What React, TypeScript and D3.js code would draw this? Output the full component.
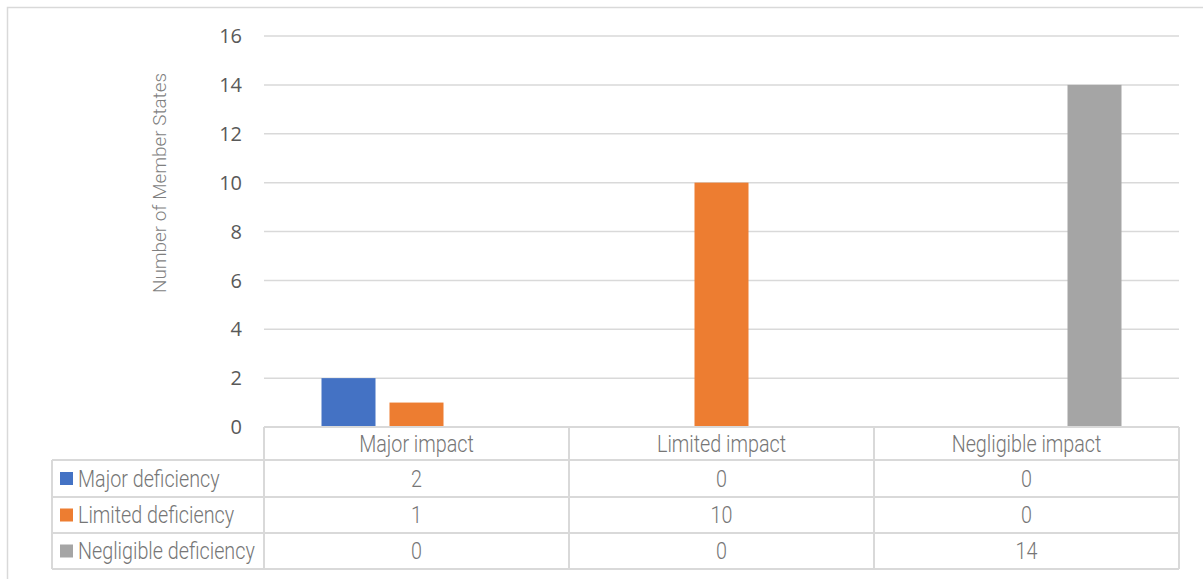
import React from "react";
import * as d3 from "d3";

const categories = ["Major impact", "Limited impact", "Negligible impact"];
const seriesNames = ["Major deficiency", "Limited deficiency", "Negligible deficiency"];
const majorDeficiency = [2, 0, 0];
const limitedDeficiency = [1, 10, 0];
const negligibleDeficiency = [0, 0, 14];
const seriesColors = ["#4472C4", "#ED7D31", "#A5A5A5"];
const yTicks = [0, 2, 4, 6, 8, 10, 12, 14, 16];
const yTitle = "Number of Member States";

const seriesValues = [majorDeficiency, limitedDeficiency, negligibleDeficiency];

const W = 1203;
const H = 579;
const plotLeft = 264;
const plotRight = 1179;
const plotTop = 36;
const plotBottom = 427;
const rowLines = [427, 460, 497, 533, 569];
const tableLeft = 52;
const narrow = "Roboto, sans-serif";
const gridColor = "#D9D9D9";
const textColor = "#767676";

function NText({ x, y, anchor, children }: { x: number; y: number; anchor?: string; children: React.ReactNode }) {
  return (
    <text
      transform={`translate(${x},${y}) scale(0.84,1)`}
      dy="0.36em"
      textAnchor={anchor || "start"}
      fontFamily={narrow}
      fontWeight={300}
      fontSize={23.5}
      fill={textColor}
    >
      {children}
    </text>
  );
}

export default function App() {
  const x = d3.scaleBand<string>().domain(categories).range([plotLeft, plotRight]);
  const bw = x.bandwidth();
  const xs = d3
    .scaleBand<string>()
    .domain(seriesNames)
    .range([(bw - 190) / 2, (bw + 190) / 2])
    .paddingInner(14 / 68);
  const y = d3.scaleLinear().domain([0, 16]).range([plotBottom, plotTop]);

  const colEdges = [plotLeft, ...categories.map((c) => (x(c) as number) + bw)];

  return (
    <svg width={W} height={H} style={{ position: "absolute", left: 0, top: 0, background: "#fff" }}>
      <rect x={7.5} y={7.5} width={1200} height={575} fill="#fff" stroke={gridColor} strokeWidth={1.5} />
      {yTicks.map((t) => (
        <g key={t}>
          {t > 0 && (
            <line x1={plotLeft} x2={plotRight} y1={y(t)} y2={y(t)} stroke={gridColor} strokeWidth={1.5} />
          )}
          <text
            x={242}
            y={y(t)}
            dy="0.36em"
            textAnchor="end"
            fontFamily="'Open Sans', sans-serif"
            fontSize={20}
            fill="#595959"
          >
            {t}
          </text>
        </g>
      ))}
      <text
        transform={`translate(166,183) rotate(-90)`}
        textAnchor="middle"
        fontFamily={narrow}
        fontSize={19}
        fontWeight={300}
        fill="#7F7F7F"
        textLength={220}
        lengthAdjust="spacingAndGlyphs"
      >
        {yTitle}
      </text>
      {seriesValues.map((vals, si) =>
        categories.map((c, ci) =>
          vals[ci] > 0 ? (
            <rect
              key={`${si}-${ci}`}
              x={(x(c) as number) + (xs(seriesNames[si]) as number)}
              width={xs.bandwidth()}
              y={y(vals[ci])}
              height={y(0) - y(vals[ci])}
              fill={seriesColors[si]}
            />
          ) : null
        )
      )}
      <g stroke={gridColor} strokeWidth={2} fill="none">
        <line x1={plotLeft} x2={plotRight} y1={rowLines[0]} y2={rowLines[0]} />
        {rowLines.slice(1).map((ry) => (
          <line key={ry} x1={tableLeft} x2={plotRight} y1={ry} y2={ry} />
        ))}
        <line x1={tableLeft} x2={tableLeft} y1={rowLines[1]} y2={rowLines[4]} />
        {colEdges.map((cx) => (
          <line key={cx} x1={cx} x2={cx} y1={rowLines[0]} y2={rowLines[4]} />
        ))}
      </g>
      {categories.map((c) => (
        <NText key={c} x={(x(c) as number) + bw / 2} y={(rowLines[0] + rowLines[1]) / 2} anchor="middle">
          {c}
        </NText>
      ))}
      {seriesNames.map((s, si) => {
        const cy = (rowLines[si + 1] + rowLines[si + 2]) / 2;
        return (
          <g key={s}>
            <rect x={60} y={cy - 6.5} width={13} height={13} fill={seriesColors[si]} />
            <NText x={78} y={cy}>
              {s}
            </NText>
            {categories.map((c, ci) => (
              <NText key={c} x={(x(c) as number) + bw / 2} y={cy} anchor="middle">
                {seriesValues[si][ci]}
              </NText>
            ))}
          </g>
        );
      })}
    </svg>
  );
}
